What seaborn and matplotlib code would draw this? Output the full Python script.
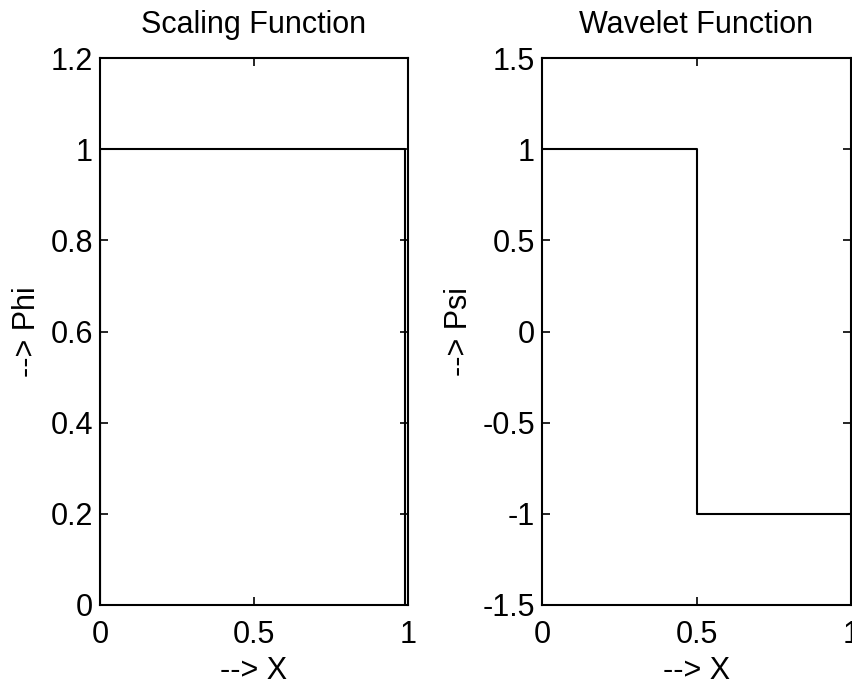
import matplotlib
matplotlib.use("Agg")
import matplotlib.pyplot as plt
import seaborn as sns
import pandas as pd

# Data (step functions)
phi_x = [0.0, 0.0, 0.99, 0.99]
phi_y = [0.0, 1.0, 1.0, 0.0]
psi_x = [0.0, 0.5, 0.5, 1.0]
psi_y = [1.0, 1.0, -1.0, -1.0]

titles = ["Scaling Function", "Wavelet Function"]
ylabels = ["--> Phi", "--> Psi"]
xlabel = "--> X"
x_ticks = [0, 0.5, 1]
phi_ticks = [0, 0.2, 0.4, 0.6, 0.8, 1, 1.2]
phi_ticklabels = ["0", "0.2", "0.4", "0.6", "0.8", "1", "1.2"]
psi_ticks = [-1.5, -1, -0.5, 0, 0.5, 1, 1.5]
psi_ticklabels = ["-1.5", "-1", "-0.5", "0", "0.5", "1", "1.5"]
x_ticklabels = ["0", "0.5", "1"]

sns.set_style("ticks")
plt.rcParams['font.family'] = ['Liberation Sans', 'DejaVu Sans']

W, H = 852, 688
FS = 22
fig = plt.figure(figsize=(W / 100, H / 100), dpi=100)

def rect(x0, x1, y0, y1):
    return [x0 / W, 1 - y1 / H, (x1 - x0) / W, (y1 - y0) / H]

ax1 = fig.add_axes(rect(100, 408, 58, 605))
ax2 = fig.add_axes(rect(542, 851, 58, 605))

df1 = pd.DataFrame({"x": phi_x, "y": phi_y})
df2 = pd.DataFrame({"x": psi_x, "y": psi_y})

for ax, df, title, ylab, yt, ytl, ylim in [
    (ax1, df1, titles[0], ylabels[0], phi_ticks, phi_ticklabels, (0, 1.2)),
    (ax2, df2, titles[1], ylabels[1], psi_ticks, psi_ticklabels, (-1.5, 1.5)),
]:
    sns.lineplot(data=df, x="x", y="y", sort=False, estimator=None,
                 color="black", linewidth=1.5, ax=ax)
    ax.set_xlim(0, 1)
    ax.set_ylim(*ylim)
    ax.set_xticks(x_ticks)
    ax.set_xticklabels(x_ticklabels)
    ax.set_yticks(yt)
    ax.set_yticklabels(ytl)
    ax.tick_params(direction="in", top=True, right=True, length=6, width=1.2,
                   labelsize=FS, colors="black")
    ax.tick_params(axis="x", pad=11)
    ax.tick_params(axis="y", pad=5)
    for s in ax.spines.values():
        s.set_visible(True)
        s.set_linewidth(1.5)
        s.set_color("black")
    ax.set_title(title, fontsize=FS, pad=18, color="black")
    ax.set_ylabel(ylab, fontsize=FS, labelpad=6, color="black")
    ax.set_xlabel(xlabel, fontsize=FS, labelpad=4, color="black")

fig.savefig("out.png", dpi=100, facecolor="white")
